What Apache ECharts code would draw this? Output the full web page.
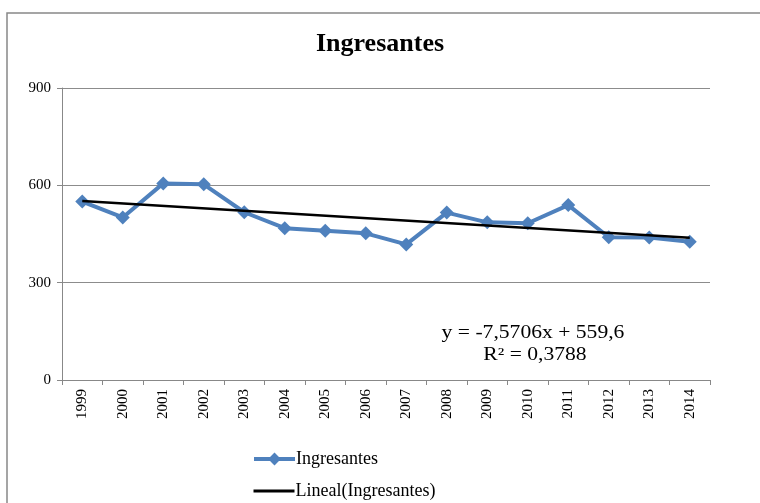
<!DOCTYPE html>
<html>
<head>
<meta charset="utf-8">
<script src="https://cdn.jsdelivr.net/npm/echarts@6/dist/echarts.min.js"></script>
<style>html,body{margin:0;padding:0;background:#fff;}#c{width:760px;height:503px;}</style>
</head>
<body>
<div id="c"></div>
<script>
const years = ['1999','2000','2001','2002','2003','2004','2005','2006','2007','2008','2009','2010','2011','2012','2013','2014'];
const ingresantes = [550, 501, 606, 603, 517, 468, 460, 452, 418, 516, 486, 483, 539, 440, 439, 426];
const trendSlope = -7.5706;
const trendIntercept = 559.6;
const yTicks = [0, 300, 600, 900];
const equationLines = ['y = -7,5706x + 559,6', 'R² = 0,3788'];

const trendData = [
  [years[0], trendIntercept + trendSlope * 1],
  [years[years.length - 1], trendIntercept + trendSlope * years.length]
];

const serif = '"Liberation Serif", "DejaVu Serif", serif';
const legendBase = {
  orient: 'vertical', left: 252, padding: 0, itemWidth: 41, itemHeight: 16,
  textStyle: {fontFamily: serif, fontSize: 18, color: '#000', padding: [0,0,0,-4]}
};
const chart = echarts.init(document.getElementById('c'), null, {renderer: 'canvas'});
chart.setOption({
  backgroundColor: '#fff',
  animation: false,
  title: {
    text: 'Ingresantes', left: 'center', top: 26,
    textStyle: {fontFamily: serif, fontSize: 26, fontWeight: 'bold', color: '#000'}
  },
  grid: {left: 62, right: 50, top: 88, bottom: 123},
  xAxis: {
    type: 'category', data: years, boundaryGap: true,
    axisLine: {lineStyle: {color: '#888', width: 1}},
    axisTick: {show: true, alignWithLabel: false, length: 5, lineStyle: {color: '#888'}},
    axisLabel: {rotate: 90, fontFamily: serif, fontSize: 15, color: '#000', margin: 9}
  },
  yAxis: {
    type: 'value', min: yTicks[0], max: yTicks[yTicks.length - 1], interval: 300,
    axisLine: {show: true, lineStyle: {color: '#888', width: 1}},
    axisTick: {show: true, length: 5, lineStyle: {color: '#888'}},
    axisLabel: {fontFamily: serif, fontSize: 15, color: '#000', margin: 11},
    splitLine: {lineStyle: {color: '#8c8c8c', width: 1}}
  },
  legend: [
    Object.assign({}, legendBase, {top: 450, data: [{name: 'Ingresantes', lineStyle: {width: 4, color: '#4F81BD'}}]}),
    Object.assign({}, legendBase, {top: 482, data: [{name: 'Lineal(Ingresantes)', itemStyle: {opacity: 0}, lineStyle: {width: 3, color: '#000'}}]})
  ],
  series: [
    {
      name: 'Ingresantes', type: 'line', data: ingresantes,
      symbol: 'diamond', symbolSize: 14,
      lineStyle: {color: '#4F81BD', width: 4},
      itemStyle: {color: '#4F81BD'}, z: 2
    },
    {
      name: 'Lineal(Ingresantes)', type: 'line', data: trendData,
      symbol: 'none', lineStyle: {color: '#000', width: 2.5},
      itemStyle: {color: '#000'}, z: 3
    }
  ],
  graphic: [
    {type: 'rect', x: 7, y: 13, shape: {x: 0, y: 0, width: 800, height: 600},
     style: {fill: 'none', stroke: '#888', lineWidth: 1.5}, silent: true, z: -1},
    {type: 'text', x: 533, y: 333, scaleX: 1.2,
     style: {text: equationLines[0], font: '18px ' + serif, fill: '#000', textAlign: 'center', textVerticalAlign: 'middle'}},
    {type: 'text', x: 535, y: 355, scaleX: 1.2,
     style: {text: equationLines[1], font: '18px ' + serif, fill: '#000', textAlign: 'center', textVerticalAlign: 'middle'}}
  ]
});
</script>
</body>
</html>
